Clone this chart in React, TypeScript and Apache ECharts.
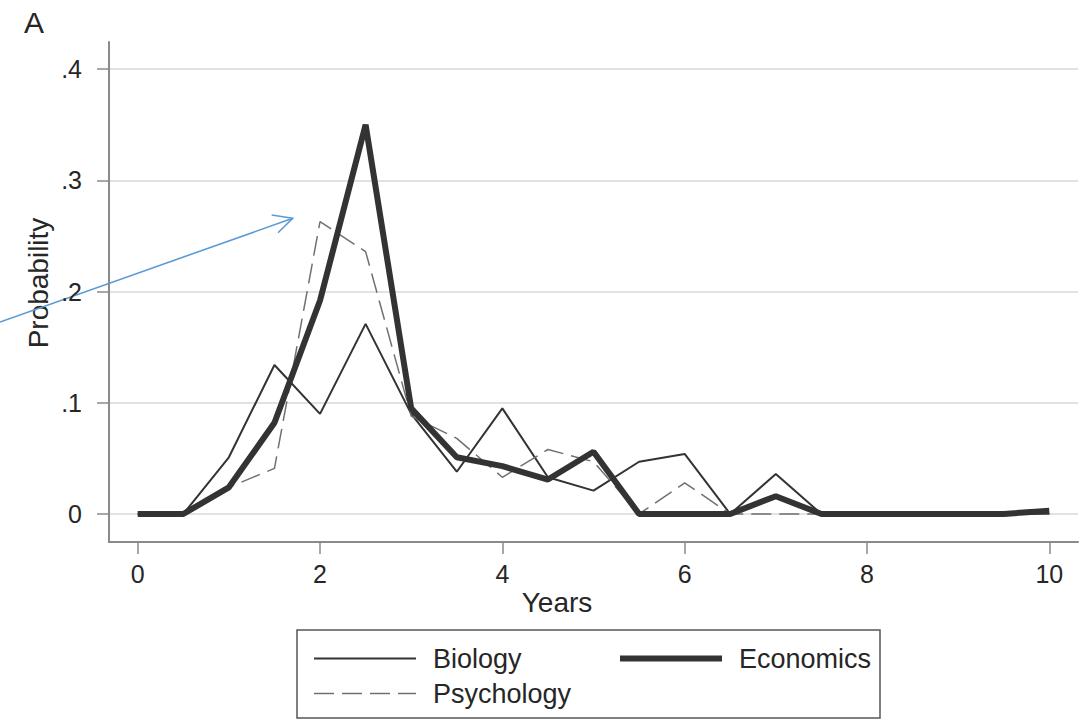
import React, { useEffect, useRef } from "react";
import * as echarts from "echarts";

const years = [0, 0.5, 1, 1.5, 2, 2.5, 3, 3.5, 4, 4.5, 5, 5.5, 6, 6.5, 7, 7.5, 8, 8.5, 9, 9.5, 10];
const biology = [0, 0, 0.051, 0.134, 0.09, 0.171, 0.09, 0.038, 0.095, 0.033, 0.021, 0.047, 0.054, 0, 0.036, 0, 0, 0, 0, 0, 0];
const psychology = [0, 0, 0.024, 0.041, 0.263, 0.236, 0.088, 0.068, 0.033, 0.058, 0.047, 0, 0.028, 0, 0, 0, 0, 0, 0, 0, 0];
const economics = [0, 0, 0.024, 0.082, 0.192, 0.35, 0.095, 0.051, 0.043, 0.031, 0.056, 0, 0, 0, 0.016, 0, 0, 0, 0, 0, 0.003];
const xTicks = [0, 2, 4, 6, 8, 10];
const yTicks = [0, 0.1, 0.2, 0.3, 0.4];

const FONT = "'Liberation Sans', Arial, sans-serif";
const TEXT = "#262626";
const AXIS = "#8a8a8a";

const pairs = (vals: number[]) => years.map((x, i) => [x, vals[i]]);

export default function App() {
  const ref = useRef<HTMLDivElement>(null);
  useEffect(() => {
    document.body.style.margin = "0";
    const chart = echarts.init(ref.current!, null, { renderer: "svg" });
    const legendText = {
      fontSize: 27,
      lineHeight: 27,
      color: TEXT,
      fontFamily: FONT,
      padding: [0, 0, 0, 12],
    };
    const legendBase = {
      orient: "vertical",
      top: 645,
      itemWidth: 102,
      itemHeight: 14,
      itemGap: 8,
      padding: 0,
      selectedMode: false,
      textStyle: legendText,
      itemStyle: { opacity: 0 },
      lineStyle: { width: "inherit" },
    };
    chart.setOption({
      animation: false,
      backgroundColor: "#ffffff",
      grid: { left: 109, top: 42, width: 969, height: 500, containLabel: false },
      xAxis: {
        type: "value",
        min: -0.315,
        max: 10.315,
        axisLine: { show: true, onZero: false, lineStyle: { color: AXIS, width: 2 } },
        axisTick: { show: true, length: 12, customValues: xTicks, lineStyle: { color: AXIS, width: 1.5 } },
        axisLabel: { customValues: xTicks, fontSize: 25, color: TEXT, fontFamily: FONT, margin: 19 },
        splitLine: { show: false },
      },
      yAxis: {
        type: "value",
        min: -0.0252,
        max: 0.4245,
        axisLine: { show: true, onZero: false, lineStyle: { color: AXIS, width: 2 } },
        axisTick: { show: true, length: 12, customValues: yTicks, lineStyle: { color: AXIS, width: 1.5 } },
        axisLabel: {
          customValues: yTicks,
          fontSize: 25,
          color: TEXT,
          fontFamily: FONT,
          margin: 27,
          formatter: (v: number) => (Math.abs(v) < 1e-9 ? "0" : v.toFixed(1).replace(/^0/, "")),
        },
        splitLine: { show: true, lineStyle: { color: "#d8d8d8", width: 1.5 } },
      },
      legend: [
        { ...legendBase, data: ["Biology", "Psychology"], left: 313 },
        { ...legendBase, data: ["Economics"], left: 617 },
      ],
      series: [
        {
          name: "Biology",
          type: "line",
          data: pairs(biology),
          symbol: "none",
          lineStyle: { color: "#333333", width: 2 },
          itemStyle: { color: "#333333" },
        },
        {
          name: "Psychology",
          type: "line",
          data: pairs(psychology),
          symbol: "none",
          lineStyle: { color: "#707070", width: 1.5, type: [20, 8] },
          itemStyle: { color: "#707070" },
        },
        {
          name: "Economics",
          type: "line",
          data: pairs(economics),
          symbol: "none",
          lineStyle: { color: "#333333", width: 6 },
          itemStyle: { color: "#333333" },
        },
      ],
      graphic: [
        {
          type: "text",
          left: 24,
          top: 7,
          style: { text: "A", fontSize: 30, fill: TEXT, fontFamily: FONT },
        },
        {
          type: "text",
          x: 38,
          y: 283,
          rotation: Math.PI / 2,
          style: {
            text: "Probability",
            fontSize: 28,
            fill: TEXT,
            fontFamily: FONT,
            textAlign: "center",
            textVerticalAlign: "middle",
          },
        },
        {
          type: "text",
          x: 557,
          y: 602,
          style: {
            text: "Years",
            fontSize: 28,
            fill: TEXT,
            fontFamily: FONT,
            textAlign: "center",
            textVerticalAlign: "middle",
          },
        },
        {
          type: "rect",
          shape: { x: 297, y: 630, width: 583, height: 88 },
          style: { fill: "none", stroke: "#555555", lineWidth: 1.5 },
        },
        {
          type: "line",
          shape: { x1: 0, y1: 322, x2: 292.7, y2: 218.3 },
          style: { stroke: "#5b9bd5", lineWidth: 1.6 },
        },
        {
          type: "polyline",
          shape: { points: [[271.7, 215], [292.7, 218.3], [278, 232.7]] },
          style: { stroke: "#5b9bd5", lineWidth: 1.6, fill: "none" },
        },
      ],
    });
    return () => chart.dispose();
  }, []);
  return <div ref={ref} style={{ position: "absolute", left: 0, top: 0, width: 1089, height: 722 }} />;
}
